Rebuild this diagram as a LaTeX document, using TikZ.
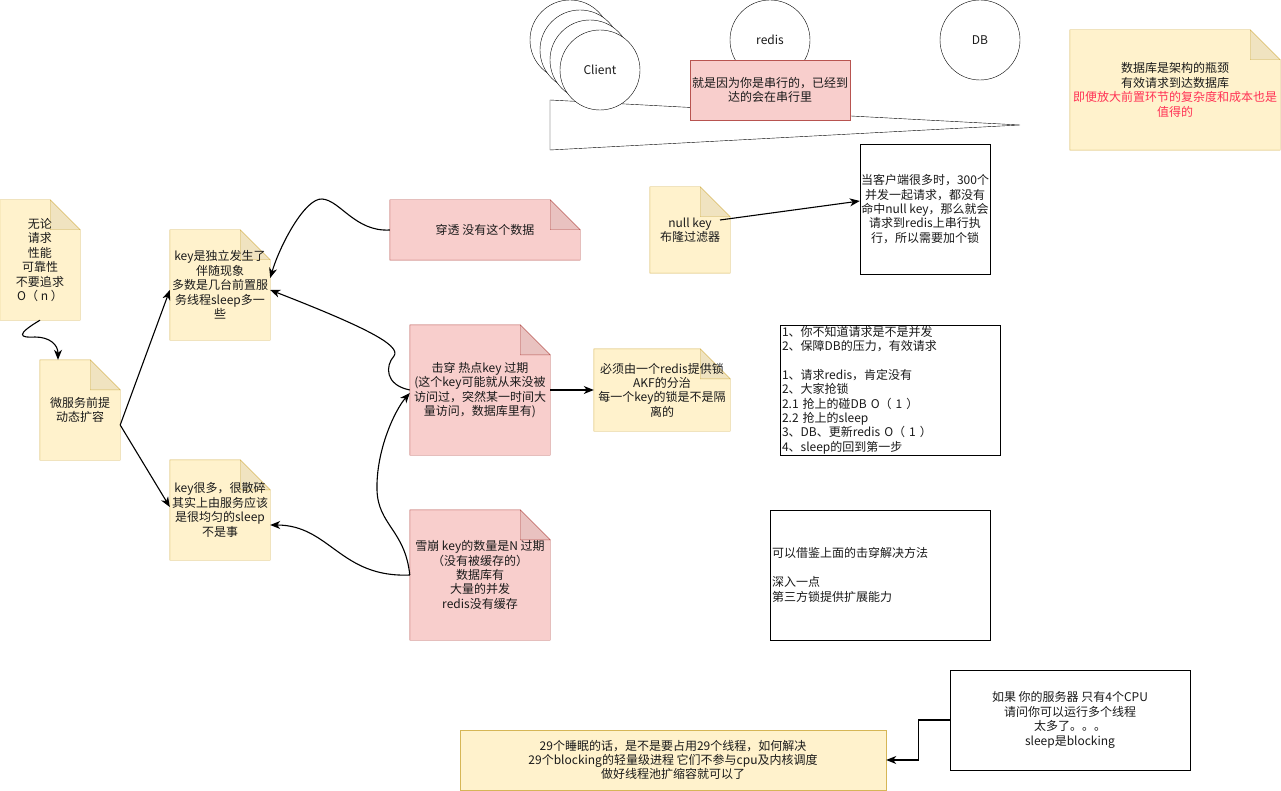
\documentclass[tikz,border=0pt]{standalone}
\usepackage{fontspec}
\setmainfont{Noto Sans CJK SC}
\usetikzlibrary{arrows.meta,backgrounds}
\definecolor{ynote}{HTML}{FFF2CC}
\definecolor{ystroke}{HTML}{D6B656}
\definecolor{rnote}{HTML}{F8CECC}
\definecolor{rstroke}{HTML}{B85450}
\definecolor{redtxt}{HTML}{FF3355}
\definecolor{txt}{HTML}{1A1A1A}
\newcommand{\drawnote}[3]{%
  \begin{pgfonlayer}{background}
  \path[fill=#2,draw=#3,line join=miter] (#1.south west) -- (#1.north west) -- ([xshift=-30pt]#1.north east) -- ([yshift=-30pt]#1.north east) -- (#1.south east) -- cycle;
  \path[fill=#2!94!black,draw=#3] ([xshift=-30pt]#1.north east) -- ([xshift=-30pt,yshift=-30pt]#1.north east) -- ([yshift=-30pt]#1.north east) -- cycle;
  \end{pgfonlayer}}
\tikzset{
  base/.style={font=\fontsize{12}{14.4}\selectfont, text=txt, align=center, inner sep=0pt},
  boxw/.style={base, draw=black, fill=white},
  circ/.style={base, circle, draw=black, fill=white, minimum size=80pt},
  arr/.style={draw=black, line width=1.1pt, -{Stealth[length=10pt,width=8pt,inset=3pt]}}
}
\begin{document}
\begin{tikzpicture}[x=1pt, y=-1pt, line width=1.1pt]
\useasboundingbox (0,0) rectangle (1281,791);
\begin{pgfonlayer}{background}
\fill[white] (0,0) rectangle (1281,791);
\end{pgfonlayer}

% top: triangle, clients, redis, DB
\draw[fill=white] (550,100) -- (1020,125) -- (550,150) -- cycle;
\node[circ] (c1) at (570,40) {};
\node[circ] (c2) at (580,50) {};
\node[circ] (c3) at (590,60) {};
\node[circ] (c4) at (600,70) {Client};
\node[circ] (rd) at (770,40) {redis};
\node[circ] (db) at (980,40) {DB};
\node[base, draw=rstroke, fill=rnote, minimum width=160pt, minimum height=60pt] (rb) at (770,90) {就是因为你是串行的，已经到\\达的会在串行里};

% top-right note
\node[base, minimum width=210pt, minimum height=120pt] (tn) at (1175,90) {数据库是架构的瓶颈\\有效请求到达数据库\\{\color{redtxt}即便放大前置环节的复杂度和成本也是}\\{\color{redtxt}值得的}};
\drawnote{tn}{ynote}{ystroke}

% left notes
\node[base, minimum width=80pt, minimum height=120pt] (wl) at (40,260) {无论\\请求\\性能\\可靠性\\不要追求\\O（ n ）};
\drawnote{wl}{ynote}{ystroke}
\node[base, minimum width=80pt, minimum height=100pt] (ms) at (80,410) {微服务前提\\动态扩容};
\drawnote{ms}{ynote}{ystroke}
\node[base, minimum width=100pt, minimum height=110pt] (kd) at (220,285) {key是独立发生了\\伴随现象\\多数是几台前置服\\务线程sleep多一\\些};
\drawnote{kd}{ynote}{ystroke}
\node[base, minimum width=100pt, minimum height=100pt] (km) at (220,510) {key很多，很散碎\\其实上由服务应该\\是很均匀的sleep\\不是事};
\drawnote{km}{ynote}{ystroke}

% red notes
\node[base, minimum width=190pt, minimum height=60pt] (ct) at (485,230) {穿透 没有这个数据};
\drawnote{ct}{rnote}{rstroke}
\node[base, minimum width=140pt, minimum height=130pt] (jc) at (480,390) {击穿 热点key 过期\\(这个key可能就从来没被\\访问过，突然某一时间大\\量访问，数据库里有)};
\drawnote{jc}{rnote}{rstroke}
\node[base, minimum width=140pt, minimum height=130pt] (xb) at (480,575) {雪崩 key的数量是N 过期\\（没有被缓存的）\\数据库有\\大量的并发\\redis没有缓存};
\drawnote{xb}{rnote}{rstroke}

% middle notes
\node[base, minimum width=136pt, minimum height=82pt] (bx) at (662,390) {必须由一个redis提供锁\\AKF的分治\\每一个key的锁是不是隔\\离的};
\drawnote{bx}{ynote}{ystroke}
\node[base, minimum width=80pt, minimum height=86pt] (nk) at (690,230) {null key\\布隆过滤器};
\drawnote{nk}{ynote}{ystroke}

% right boxes
\node[boxw, minimum width=130pt, minimum height=130pt] (dkh) at (925,209) {当客户端很多时，300个\\并发一起请求，都没有\\命中null key，那么就会\\请求到redis上串行执\\行，所以需要加个锁};
\node[boxw, align=left, text width=216pt, inner xsep=2pt, minimum height=130pt] (lk) at (890,390) {1、你不知道请求是不是并发\\2、保障DB的压力，有效请求\\[14.4pt]1、请求redis，肯定没有\\2、大家抢锁\\2.1 抢上的碰DB O（ 1 ）\\2.2 抢上的sleep\\3、DB、更新redis O（ 1 ）\\4、sleep的回到第一步};
\node[boxw, align=left, text width=216pt, inner xsep=2pt, minimum height=130pt] (jj) at (880,575) {可以借鉴上面的击穿解决方法\\[14.4pt]深入一点\\第三方锁提供扩展能力};
\node[boxw, minimum width=240pt, minimum height=100pt] (rg) at (1070,720) {如果 你的服务器 只有4个CPU\\请问你可以运行多个线程\\太多了。。。\\sleep是blocking};
\node[base, draw=ystroke, fill=ynote, minimum width=426pt, minimum height=60pt] (eb) at (673,760) {29个睡眠的话，是不是要占用29个线程，如何解决\\29个blocking的轻量级进程 它们不参与cpu及内核调度\\做好线程池扩缩容就可以了};

% connectors
\draw[arr] (wl.south) .. controls (15,335) and (20,338) .. (35,337) .. controls (50,337) and (58,345) .. ([xshift=-22pt]ms.north);
\draw[arr] ([yshift=-15pt]ms.east) -- ([yshift=-5pt]kd.west);
\draw[arr] ([yshift=-15pt]ms.east) -- ([yshift=3pt]km.west);
\draw[arr] (ct.west) .. controls (355,232) and (340,200) .. (322,199) .. controls (305,198) and (280,245) .. ([yshift=7pt]kd.east);
\draw[arr] (jc.west) .. controls (385,385) and (385,366) .. (394,356) .. controls (402,345) and (360,325) .. ([yshift=-5pt]kd.east);
\draw[arr] (xb.west) .. controls (405,530) and (378,525) .. (377,490) .. controls (376,450) and (395,410) .. ([yshift=-3pt]jc.west);
\draw[arr] (xb.west) .. controls (340,578) and (330,525) .. ([yshift=-15pt]km.east);
\draw[arr] (jc.east) -- (bx.west);
\draw[arr] ([xshift=30pt,yshift=10pt]nk.center) -- ([yshift=8pt]dkh.west);
\draw[arr] (rg.west) -- ++(-31,0) |- (eb.east);
\end{tikzpicture}
\end{document}
